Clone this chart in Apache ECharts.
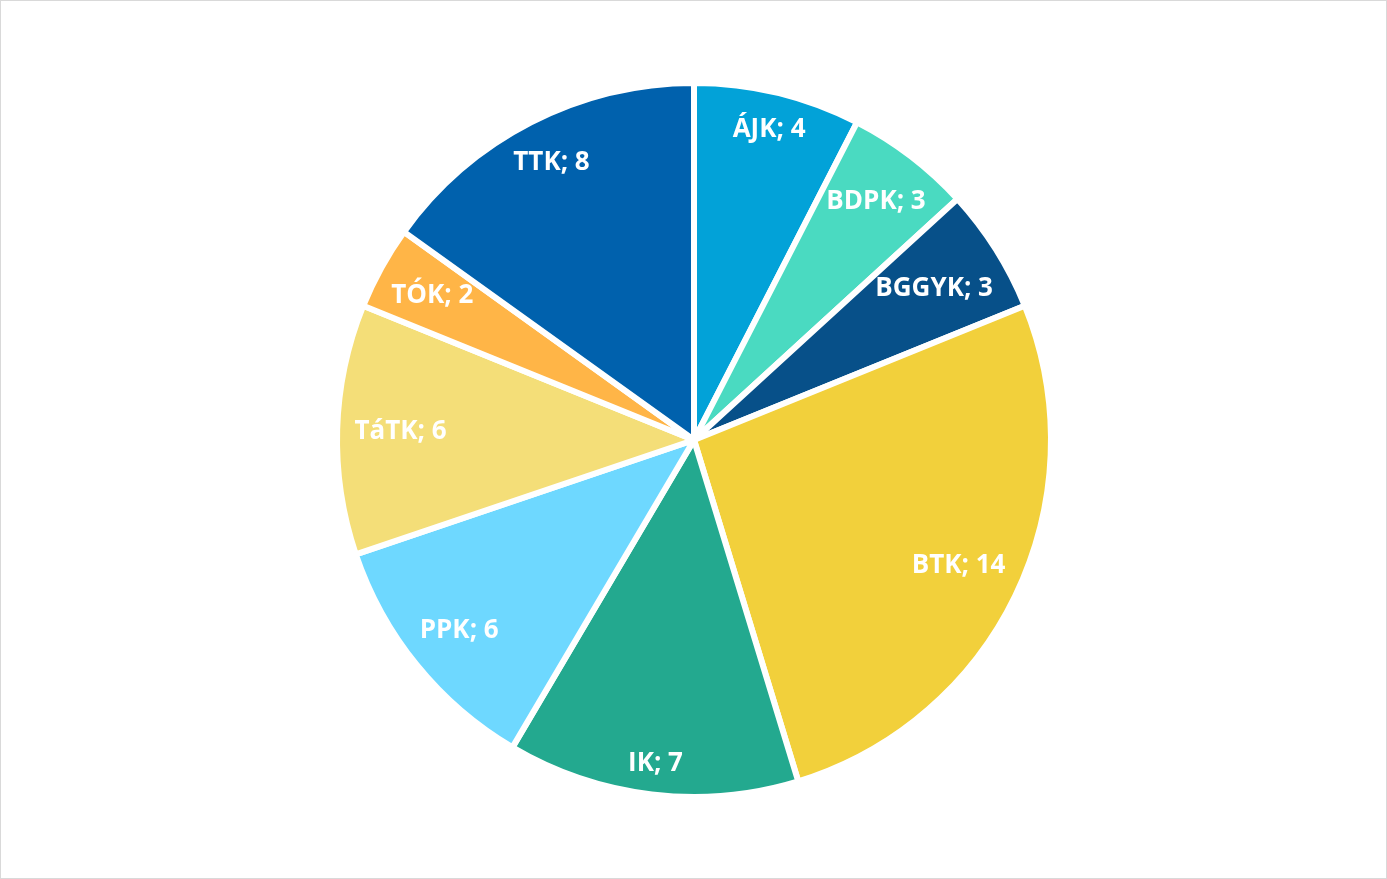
<!DOCTYPE html>
<html>
<head>
<meta charset="utf-8">
<script src="https://cdn.jsdelivr.net/npm/echarts@6/dist/echarts.min.js"></script>
<style>
  html, body { margin: 0; padding: 0; background: #fff; }
  #chart { width: 1385px; height: 877px; border: 1px solid #d9d9d9; }
</style>
</head>
<body>
<div id="chart"></div>
<script>
var categories = ["ÁJK", "BDPK", "BGGYK", "BTK", "IK", "PPK", "TáTK", "TÓK", "TTK"];
var values = [4, 3, 3, 14, 7, 6, 6, 2, 8];
var colors = ["#02A2D8", "#4ADAC1", "#075089", "#F2D03B", "#23A98F", "#6ED8FF", "#F4DE78", "#FFB547", "#0061AD"];

var CENTER = [693, 439];
var RADIUS = 357;
var LABEL_EDGE = 340; // labels sit "inside end", box corners kept within this radius

var chart = echarts.init(document.getElementById("chart"));

// push each label outward along its ray until its box reaches LABEL_EDGE
function insideEnd(params) {
  var r = params.labelRect;
  var cx = r.x + r.width / 2 - CENTER[0];
  var cy = r.y + r.height / 2 - CENTER[1];
  var d = Math.sqrt(cx * cx + cy * cy) || 1;
  var ux = cx / d, uy = cy / d;
  var hw = r.width / 2, hh = r.height * 0.4;
  function far(t) {
    var x = Math.abs(t * ux) + hw, y = Math.abs(t * uy) + hh;
    return Math.sqrt(x * x + y * y);
  }
  var lo = 0, hi = RADIUS;
  for (var k = 0; k < 40; k++) {
    var mid = (lo + hi) / 2;
    if (far(mid) > LABEL_EDGE) hi = mid; else lo = mid;
  }
  return { dx: lo * ux - cx, dy: lo * uy - cy };
}

chart.setOption({
  animation: false,
  series: [
    {
      type: "pie",
      center: CENTER,
      radius: [0, RADIUS],
      startAngle: 90,
      clockwise: true,
      silent: true,
      itemStyle: { borderColor: "#ffffff", borderWidth: 6 },
      label: {
        show: true,
        position: "inside",
        formatter: "{b}; {c}",
        color: "#ffffff",
        fontFamily: "Open Sans",
        fontWeight: "bold",
        fontSize: 26
      },
      labelLine: { show: false },
      labelLayout: insideEnd,
      data: categories.map(function (name, i) {
        return { name: name, value: values[i], itemStyle: { color: colors[i] } };
      })
    }
  ]
});
</script>
</body>
</html>
